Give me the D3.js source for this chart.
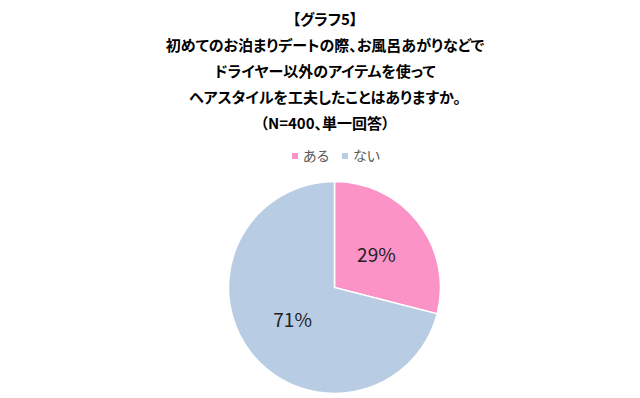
<!DOCTYPE html>
<html>
<head>
<meta charset="utf-8">
<script src="https://cdn.jsdelivr.net/npm/d3@7"></script>
<style>
  html, body { margin: 0; padding: 0; background: #fff; }
  svg text { font-family: "Noto Sans CJK JP", "Noto Sans", sans-serif; font-feature-settings: "palt"; }
</style>
</head>
<body>
<div id="pieChart"></div>
<script>
const titleLines = [
  "【グラフ5】",
  "初めてのお泊まりデートの際、お風呂あがりなどで",
  "ドライヤー以外のアイテムを使って",
  "ヘアスタイルを工夫したことはありますか。",
  "（N=400、単一回答）"
];
const categories = ["ある", "ない"];
const values = [29, 71];
const colors = ["#fb93c7", "#b8cce4"];

const width = 640;
const height = 398;
const cx = 334.5;
const cy = 287.5;
const radius = 106;

const svg = d3.select("#pieChart").append("svg")
  .attr("width", width)
  .attr("height", height);

/* Title */
svg.append("g")
  .selectAll("text")
  .data(titleLines).enter()
  .append("text")
  .attr("x", 325)
  .attr("y", (d, i) => 20 + i * 25.9)
  .attr("dy", "0.35em")
  .attr("text-anchor", "middle")
  .style("font-size", "15px")
  .style("font-weight", "bold")
  .style("fill", "#000")
  .text(d => d);

/* Legend */
const legendX = d3.scalePoint().domain(categories).range([292, 342]);
const legend = svg.append("g")
  .selectAll("g")
  .data(categories).enter()
  .append("g")
  .attr("transform", d => `translate(${legendX(d)}, 156)`);

legend.append("rect")
  .attr("x", 0)
  .attr("y", -3)
  .attr("width", 6)
  .attr("height", 6)
  .style("fill", (d, i) => colors[i]);

legend.append("text")
  .attr("x", 11)
  .attr("dy", "0.35em")
  .style("font-size", "14px")
  .style("fill", "#595959")
  .text(d => d);

/* Pie */
const pie = d3.pie().sort(null).value(d => d);
const arc = d3.arc().innerRadius(0).outerRadius(radius);
const labelArc = d3.arc().innerRadius(radius * 0.5).outerRadius(radius * 0.5);

const slices = svg.append("g")
  .attr("transform", `translate(${cx}, ${cy})`)
  .selectAll(".slice")
  .data(pie(values)).enter()
  .append("g")
  .attr("class", "slice");

slices.append("path")
  .attr("d", arc)
  .style("fill", (d, i) => colors[i])
  .style("stroke", "#fff")
  .style("stroke-width", 1.5);

slices.append("text")
  .attr("transform", d => `translate(${labelArc.centroid(d)})`)
  .attr("text-anchor", "middle")
  .attr("dy", "0.35em")
  .style("font-size", "19px")
  .style("fill", "#222")
  .text(d => d.value + "%");
</script>
</body>
</html>
